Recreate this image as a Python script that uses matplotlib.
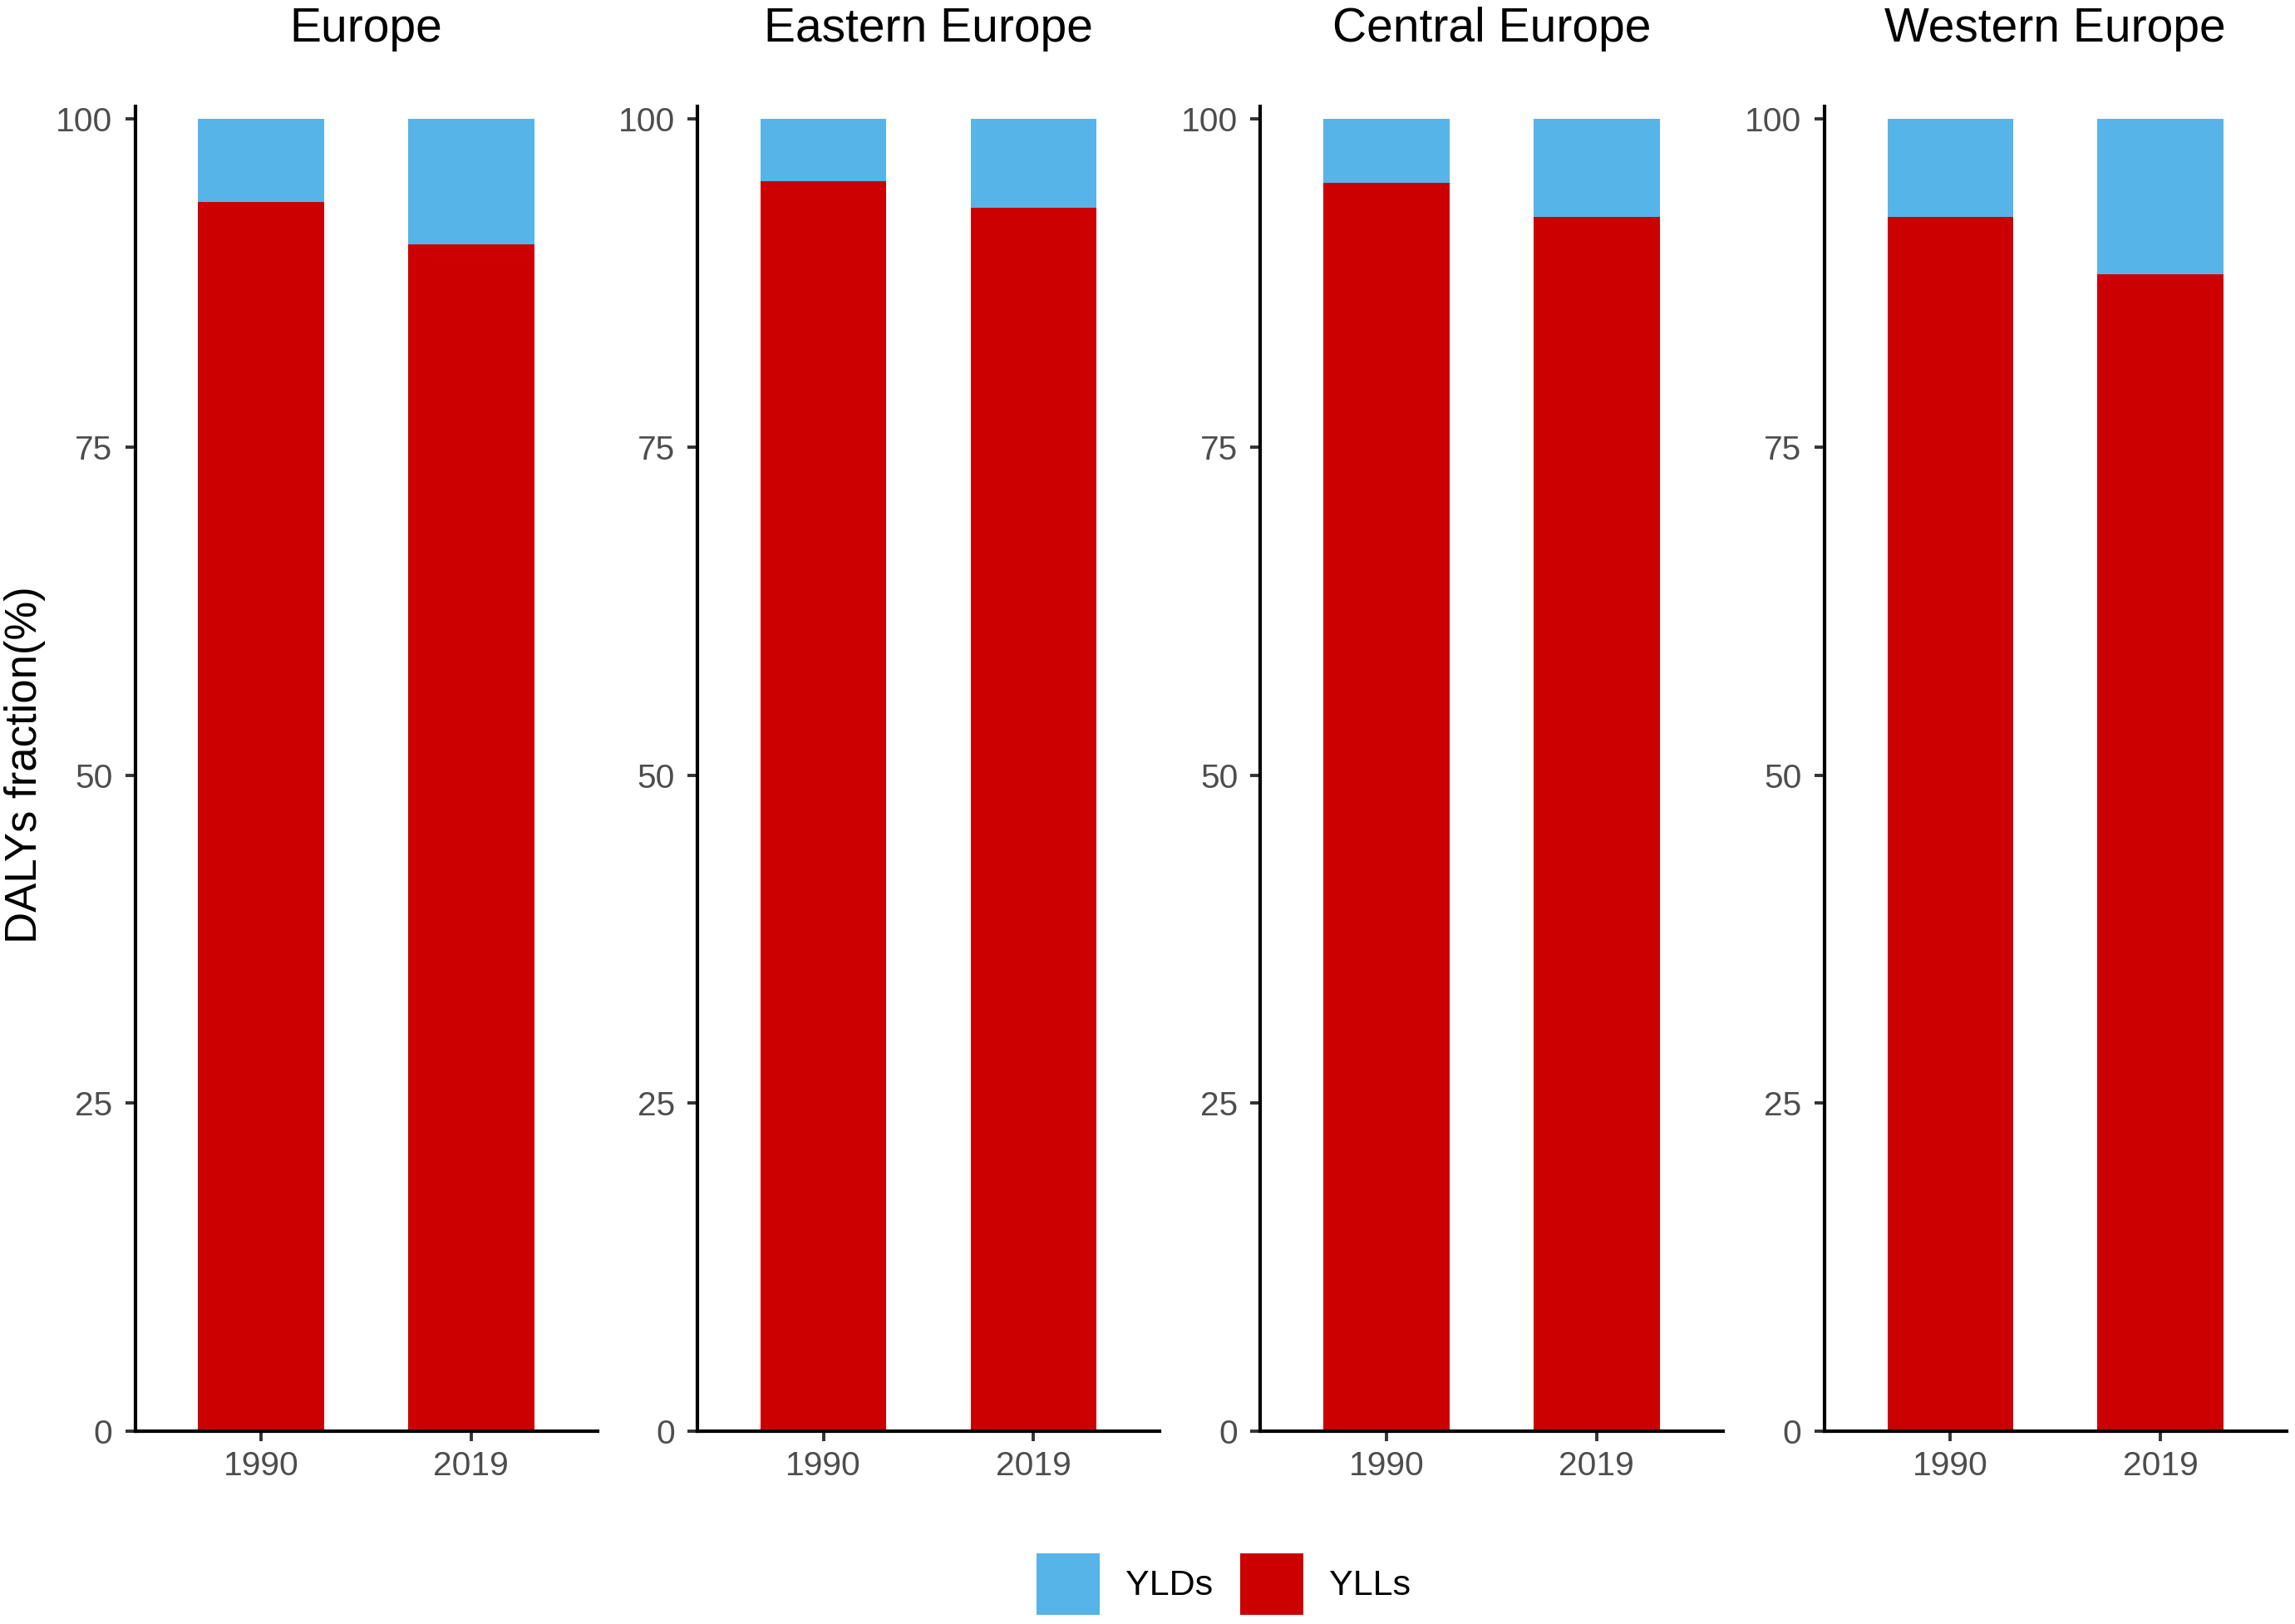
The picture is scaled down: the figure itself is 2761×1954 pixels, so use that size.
import matplotlib
matplotlib.use('Agg')
import matplotlib.pyplot as plt
from matplotlib.patches import Patch

plt.rcParams['font.family'] = ['Liberation Sans', 'DejaVu Sans']

# 数据
regions = ['Europe', 'Eastern Europe', 'Central Europe', 'Western Europe']
years = ['1990', '2019']
ylls = [[93.7, 90.45], [95.27, 93.24], [95.14, 92.56], [92.56, 88.17]]
ylds = [[100 - v for v in r] for r in ylls]
yticks = [0, 25, 50, 75, 100]

col_yld = '#56B4E9'
col_yll = '#CC0000'

W, H = 2761, 1954
fig = plt.figure(figsize=(W / 200, H / 200), dpi=200)

lefts = [162.5, 839, 1516.5, 2194.7]
pw = 556
top_px, bot_px = 128.3, 1722

for i in range(4):
    ax = fig.add_axes([lefts[i] / W, (H - bot_px) / H, pw / W, (bot_px - top_px) / H])
    xs = [1, 2]
    ax.bar(xs, ylls[i], width=0.6, color=col_yll, linewidth=0)
    ax.bar(xs, ylds[i], width=0.6, bottom=ylls[i], color=col_yld, linewidth=0)
    ax.set_xlim(0.4, 2.6)
    ax.set_ylim(0, 100.95)
    ax.set_xticks(xs)
    ax.set_xticklabels(years)
    ax.set_yticks(yticks)
    ax.set_yticklabels([str(t) for t in yticks])
    for s in ['top', 'right']:
        ax.spines[s].set_visible(False)
    for s in ['left', 'bottom']:
        ax.spines[s].set_linewidth(1.5)
        ax.spines[s].set_color('black')
    ax.tick_params(axis='both', length=4.3, width=1.4, color='#333333',
                   labelsize=14.7, labelcolor='#4D4D4D')
    ax.tick_params(axis='y', pad=5.5)
    ax.tick_params(axis='x', pad=4)
    # 分面标题
    fig.text((lefts[i] + pw / 2) / W, 1 - 50 / H, regions[i], ha='center', va='baseline',
             fontsize=20.5, color='black')

fig.text(30 / W, 1 - 920 / H, 'DALYs fraction(%)', rotation=90, ha='center', va='center',
         fontsize=19, color='black')

handles = [Patch(facecolor=col_yld, edgecolor='none', label='YLDs'),
           Patch(facecolor=col_yll, edgecolor='none', label='YLLs')]
fig.legend(handles=handles, loc='center', bbox_to_anchor=(1472 / W, 1 - 1906 / H),
           ncol=2, frameon=False, fontsize=15.5, handlelength=1.77, handleheight=2.24,
           handletextpad=0.72, columnspacing=0.75, borderpad=0)

fig.savefig('out.png', dpi=200, facecolor='white')
